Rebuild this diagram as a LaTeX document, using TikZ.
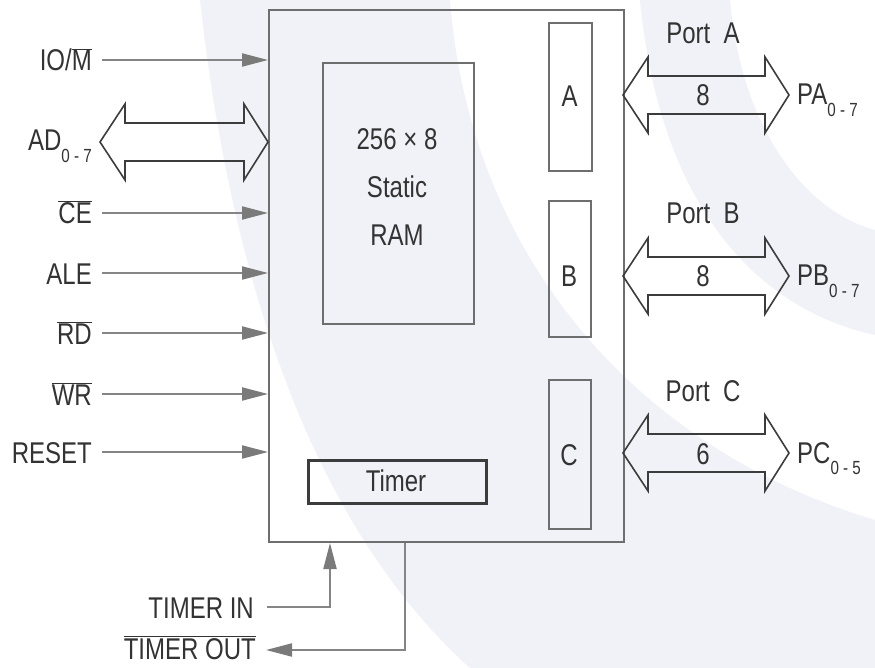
\documentclass[tikz,border=0pt]{standalone}
\usepackage{fontspec}
\setmainfont{Liberation Sans}[FakeStretch=0.8]
\usetikzlibrary{arrows.meta}
\definecolor{txt}{HTML}{333333}
\definecolor{ln}{HTML}{858585}
\definecolor{hd}{HTML}{7A7A7A}
\definecolor{bx}{HTML}{6E6E6E}
\definecolor{busc}{HTML}{3C3C3C}
\definecolor{wm}{HTML}{F1F1F8}
\newcommand{\ovl}[1]{\ensuremath{\overline{\hbox{#1}}}}
\newcommand{\sbs}[1]{\raisebox{-0.38em}{\fontsize{19}{19}\selectfont #1}}
\newcommand{\busarrow}[3]{% x0 x1 cy
  \draw[busline] (#1,#3) -- ++(25,-38) -- ++(0,19) -- (#2-24,#3-19) -- ++(0,-19) -- (#2,#3)
    -- (#2-24,#3+38) -- ++(0,-19) -- (#1+25,#3+19) -- ++(0,19) -- cycle;}
\begin{document}
\begin{tikzpicture}[x=1pt,y=-1pt,
  every node/.style={font=\fontsize{30}{33}\selectfont, text=txt, inner sep=0pt},
  lab/.style={anchor=base east},
  sig/.style={draw=ln, line width=2pt, -{Triangle[length=26pt,width=13pt,fill=hd,color=hd]}},
  box/.style={draw=bx, line width=2pt},
  busline/.style={draw=busc, line width=1.6pt, line join=miter},
]
\useasboundingbox (0,0) rectangle (875,668);
\fill[white] (0,0) rectangle (875,668);
% faint watermark
\fill[wm] (200,0) -- (450,0) .. controls (470,260) and (640,450) .. (875,520) -- (875,668) -- (470,668)
  .. controls (350,560) and (240,360) .. (200,0) -- cycle;
\fill[wm] (640,0) -- (730,0) .. controls (740,120) and (800,210) .. (875,230) -- (875,335)
  .. controls (760,310) and (660,210) .. (640,0) -- cycle;

% main chip
\node[box, minimum width=355pt, minimum height=532pt, anchor=north west] (chip) at (268,9) {};
\node[box, minimum width=151pt, minimum height=261pt, anchor=north west] (ram) at (322,62) {};
\node (r1) at (397,150) [anchor=base] {256 × 8};
\node (r2) at (397,198) [anchor=base] {Static};
\node (r3) at (397,246) [anchor=base] {RAM};
\node[box, minimum width=43pt, minimum height=148pt, anchor=north west] (pa) at (548,22) {};
\node[anchor=base] at (569.5,107) (pal) {A};
\node[box, minimum width=42pt, minimum height=136pt, anchor=north west] (pb) at (548,200) {};
\node[anchor=base] at (569,287) (pbl) {B};
\node[box, minimum width=42pt, minimum height=149pt, anchor=north west] (pc) at (548,379) {};
\node[anchor=base] at (569,465) (pcl) {C};
\node[draw=busc, line width=2.5pt, minimum width=178pt, minimum height=43pt, anchor=north west] (tmr) at (307,459) {};
\node[anchor=base] at (396,491) (tmrl) {Timer};

% left signals
\node[lab] (io) at (92,71) {IO/\ovl{M}};
\node[lab] (ad) at (92,151) {AD\sbs{0 - 7}};
\node[lab] (ce) at (92,224) {\ovl{CE}};
\node[lab] (ale) at (92,284) {ALE};
\node[lab] (rd) at (92,344) {\ovl{RD}};
\node[lab] (wr) at (92,405) {\ovl{WR}};
\node[lab] (rst) at (92,463) {RESET};
\foreach \s/\yy in {io/60, ce/213, ale/273, rd/333, wr/394, rst/452}
  \draw[sig] (102,\yy) -- (chip.west |- 0,\yy);
\busarrow{100}{268}{142}

% ports
\node[anchor=base] (porta) at (703,44) {Port\ \ A};
\node[anchor=base] (portb) at (703,224) {Port\ \ B};
\node[anchor=base] (portc) at (703,401) {Port\ \ C};
\busarrow{623}{789}{95}
\busarrow{623}{789}{276}
\busarrow{623}{789}{453}
\node[anchor=base] (na) at (703,106) {8};
\node[anchor=base] (nb) at (703,287) {8};
\node[anchor=base] (nc) at (703,464) {6};
\node[anchor=base west] (pao) at (797,105) {PA\sbs{0 - 7}};
\node[anchor=base west] (pbo) at (797,286) {PB\sbs{0 - 7}};
\node[anchor=base west] (pco) at (797,463) {PC\sbs{0 - 5}};

% timer lines
\node[lab] (tin) at (254,618) {TIMER IN};
\node[lab] (tout) at (256,659) {\ovl{TIMER OUT}};
\coordinate (tinc) at (330,607);
\coordinate (toutc) at (405,650);
\draw[sig] (267,607) -- (tinc) -- (tinc |- chip.south);
\draw[sig] (toutc |- chip.south) -- (toutc) -- (266,650);
\end{tikzpicture}
\end{document}
